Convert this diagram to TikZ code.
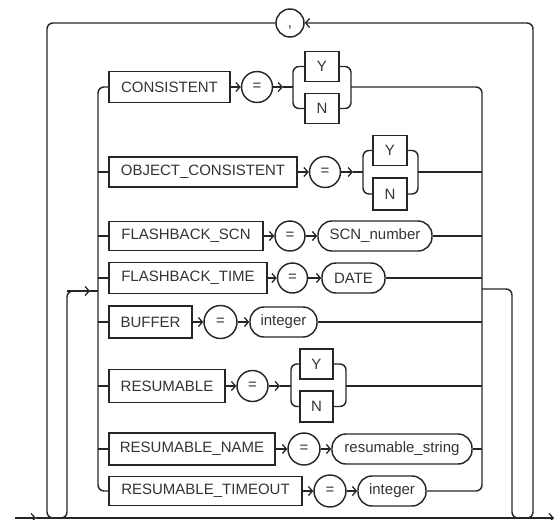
\documentclass[tikz,border=0pt]{standalone}
\usepackage{fontspec}
\setmainfont{Liberation Sans}
\usetikzlibrary{arrows.meta}
\tikzset{
  base/.style={draw=black!85, line width=1.45pt, inner sep=0pt, text=black!80, font=\fontsize{15}{17}\selectfont},
  kw/.style={base, rectangle, minimum height=31pt},
  ov/.style={base, rectangle, rounded corners=14pt, minimum height=30pt},
  eqc/.style={base, circle, minimum size=31pt},
  yn/.style={base, rectangle, minimum width=34pt, minimum height=30pt},
  ln/.style={draw=black!85, line width=1.45pt},
  rc/.style={ln, rounded corners=6pt},
  arr/.style={ln, -{Straight Barb[length=4pt,width=9pt,line width=1.3pt]}},
}
\begin{document}
\begin{tikzpicture}[x=1pt,y=-1pt]
\useasboundingbox (0,0) rectangle (555,520);

% comma loop
\node[base, circle, minimum size=28pt, text height=9pt, text depth=1pt] (comma) at (290,23) {,};

% row 1 CONSISTENT
\node[kw, minimum width=121pt] (c1) at (169.5,87) {CONSISTENT};
\node[eqc] (e1) at (257,87) {=};
\node[yn] (y1) at (322,66.5) {Y};
\node[yn] (n1) at (322,108.5) {N};
\coordinate (l1) at (293,87);
\coordinate (r1) at (351,87);
\coordinate (a1) at (283,87);

% row 2 OBJECT_CONSISTENT
\node[kw, minimum width=188pt, minimum height=30pt] (c2) at (203,172) {OBJECT\_CONSISTENT};
\node[eqc] (e2) at (325,172) {=};
\node[yn] (y2) at (390,150.5) {Y};
\node[yn, minimum height=32pt] (n2) at (390,194) {N};
\coordinate (l2) at (363,172);
\coordinate (r2) at (418,172);
\coordinate (a2) at (353,172);

% row 3 FLASHBACK_SCN
\node[kw, minimum width=154pt, minimum height=29pt] (c3) at (186,236) {FLASHBACK\_SCN};
\node[eqc, minimum size=30pt] (e3) at (290,236) {=};
\node[ov, minimum width=114pt] (v3) at (375,236) {SCN\_number};

% row 4 FLASHBACK_TIME
\node[kw, minimum width=158pt] (c4) at (188,278) {FLASHBACK\_TIME};
\node[eqc, minimum size=30pt] (e4) at (292.5,278) {=};
\node[ov, minimum width=63pt] (v4) at (353.5,278) {DATE};

% row 5 BUFFER
\node[kw, minimum width=83pt, minimum height=32pt] (c5) at (150.5,322) {BUFFER};
\node[eqc, minimum size=33pt] (e5) at (220.5,322) {=};
\node[ov, minimum width=67pt] (v5) at (283.5,322) {integer};

% row 6 RESUMABLE
\node[kw, minimum width=116pt, minimum height=33pt] (c6) at (167,386) {RESUMABLE};
\node[eqc] (e6) at (252.5,386) {=};
\node[yn, minimum width=33pt] (y6) at (316.5,364) {Y};
\node[yn, minimum width=33pt, minimum height=31pt] (n6) at (316.5,406.5) {N};
\coordinate (l6) at (291,386);
\coordinate (r6) at (346,386);
\coordinate (a6) at (280,386);

% row 7 RESUMABLE_NAME
\node[kw, minimum width=166pt, minimum height=32pt] (c7) at (192,449) {RESUMABLE\_NAME};
\node[eqc, minimum size=32pt] (e7) at (304,449) {=};
\node[ov, minimum width=140pt] (v7) at (402,449) {resumable\_string};

% row 8 RESUMABLE_TIMEOUT
\node[kw, minimum width=193pt, minimum height=29pt] (c8) at (205.5,491) {RESUMABLE\_TIMEOUT};
\node[eqc, minimum size=32pt] (e8) at (330,491) {=};
\node[ov, minimum width=68pt] (v8) at (392,491) {integer};

% arrows keyword -> = -> value
\foreach \i in {1,2,3,4,5,6,7,8} {\draw[arr] (c\i.east) -- (e\i.west);}
\foreach \i in {3,4,5,7,8} {\draw[arr] (e\i.east) -- (v\i.west);}
\foreach \i in {1,2,6} {
  \draw[arr] (e\i.east) -- (a\i);
  \draw[ln] (a\i) -- (l\i);
  \draw[rc] (y\i.west) -| (l\i) |- (n\i.west);
  \draw[rc] (y\i.east) -| (r\i) |- (n\i.east);
}

% left trunk
\coordinate (lt) at (98,87);
\coordinate (lb) at (98,491);
\draw[rc] (c1.west) -- (lt) -- (lb) -- (c8.west);
\foreach \i in {2,3,4,5,6,7} {\draw[ln] (c\i.west) -- (c\i.west -| lt);}

% right trunk
\coordinate (rt) at (482,87);
\coordinate (rb) at (482,491);
\draw[rc] (r1) -- (rt) -- (rb) -- (v8.east);
\draw[ln] (r2) -- (r2 -| rt);
\draw[ln] (r6) -- (r6 -| rt);
\foreach \i in {3,4,5,7} {\draw[ln] (v\i.east) -- (v\i.east -| rt);}

% main line
\coordinate (m0) at (15,518);
\coordinate (m1) at (36,518);
\coordinate (m2) at (554,518);
\draw[arr] (m0) -- (m1);
\draw[arr] (m1) -- (m2);

% entry into the choice block
\coordinate (ea) at (60,518);
\coordinate (eb) at (67,518);
\coordinate (ec) at (67,291);
\coordinate (ed) at (90,291);
\draw[rc] (ea) -- (eb) -- (ec) -- (ed);
\draw[arr] (ec) -- (ed);
\draw[ln] (ed) -- (ed -| lt);

% exit from the choice block
\coordinate (xa) at (482,289);
\coordinate (xb) at (512,289);
\coordinate (xc) at (512,518);
\coordinate (xd) at (520,518);
\draw[rc] (xa) -- (xb) -- (xc) -- (xd);

% outer repeat loop with comma
\coordinate (oa) at (526,518);
\coordinate (ob) at (533,518);
\coordinate (oc) at (533,23);
\coordinate (od) at (47,23);
\coordinate (oe) at (47,518);
\coordinate (of) at (55,518);
\draw[rc, arr] (oa) -- (ob) -- (oc) -- (comma.east);
\draw[rc] (comma.west) -- (od) -- (oe) -- (of);
\end{tikzpicture}
\end{document}
